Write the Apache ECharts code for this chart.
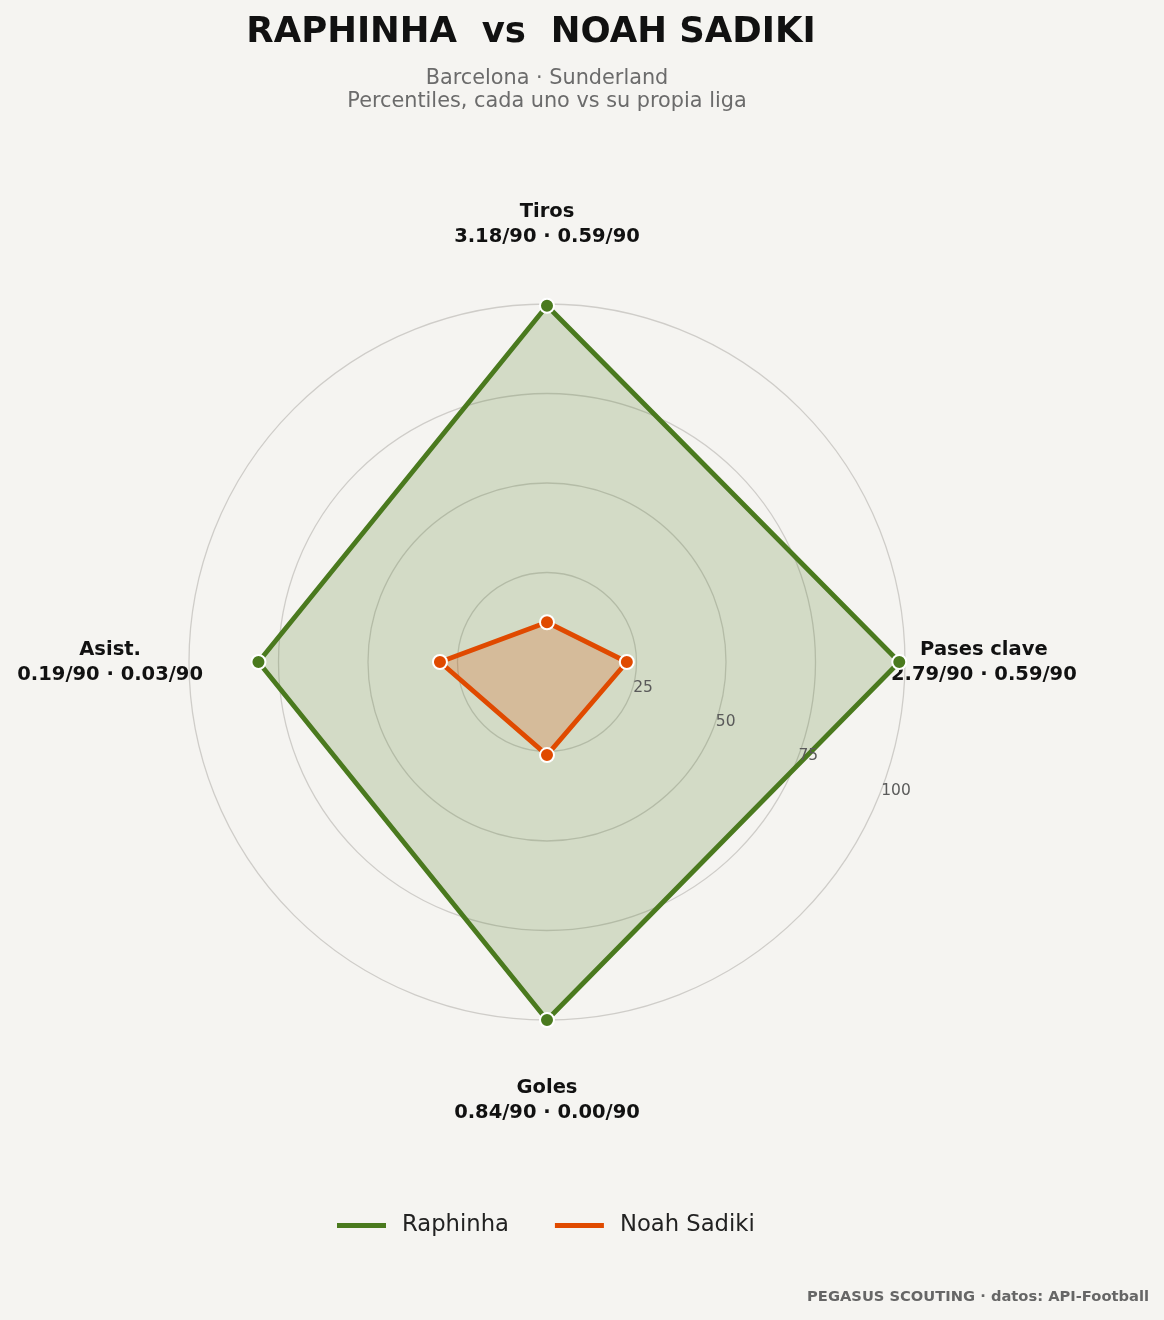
<!DOCTYPE html>
<html>
<head>
<meta charset="utf-8">
<script src="https://cdn.jsdelivr.net/npm/echarts@6/dist/echarts.min.js"></script>
<style>
html,body{margin:0;padding:0;background:#f5f4f1}
#chart{width:1164px;height:1320px}
</style>
</head>
<body>
<div id="chart"></div>
<script>
// ejes en el orden en que echarts los reparte (antihorario desde arriba)
var metrics = ['Tiros', 'Asist.', 'Goles', 'Pases clave'];
var per90 = ['3.18/90 · 0.59/90', '0.19/90 · 0.03/90', '0.84/90 · 0.00/90', '2.79/90 · 0.59/90'];
var raphinha = [99.5, 80.6, 100, 98.4];
var sadiki = [11.1, 29.9, 26, 22.3];
var ringTicks = [25, 50, 75, 100];

var GREEN = '#4a7a1e';
var ORANGE = '#e04a00';
var FONT = 'DejaVu Sans';

var chartDom = document.getElementById('chart');
var myChart = echarts.init(chartDom);
var option;

var nameBase = {fontFamily: FONT, fontSize: 19.5, fontWeight: 'bold', color: '#111', lineHeight: 25, align: 'center'};

option = {
  backgroundColor: '#f5f4f1',
  textStyle: {fontFamily: FONT},
  title: [
    {
      text: 'RAPHINHA  vs  NOAH SADIKI',
      left: 531,
      textAlign: 'center',
      top: 15,
      padding: 0,
      textStyle: {fontFamily: FONT, fontSize: 35.5, fontWeight: 'bold', color: '#111'}
    },
    {
      text: 'Barcelona · Sunderland\nPercentiles, cada uno vs su propia liga',
      left: 547,
      textAlign: 'center',
      top: 67,
      padding: 0,
      textStyle: {fontFamily: FONT, fontSize: 20.8, fontWeight: 'normal', color: '#6b6b6b', lineHeight: 23}
    },
    {
      text: 'PEGASUS SCOUTING · datos: API-Football',
      right: 10,
      bottom: 10,
      textStyle: {fontFamily: FONT, fontSize: 14.7, fontWeight: 'bold', color: '#666'}
    }
  ],
  legend: {
    top: 1209,
    left: 332,
    icon: 'rect',
    itemWidth: 49,
    itemHeight: 5,
    itemGap: 46,
    itemStyle: {borderWidth: 0},
    textStyle: {fontFamily: FONT, fontSize: 22.7, color: '#222', padding: [0, 0, 0, 11]},
    data: ['Raphinha', 'Noah Sadiki']
  },
  radar: {
    center: [547, 662],
    radius: 358,
    startAngle: 90,
    shape: 'circle',
    splitNumber: ringTicks.length,
    nameGap: -14,
    indicator: metrics.map(function (m) { return {name: m, min: 0, max: ringTicks[ringTicks.length - 1]}; }),
    axisName: {
      formatter: function (name) {
        var i = metrics.indexOf(name);
        var txt = '{n|' + name + '}\n{n|' + per90[i] + '}';
        if (i === 0) return txt + '\n{sp| }';
        if (i === 2) return '{sp| }\n' + txt;
        return txt;
      },
      rich: {
        n: nameBase,
        sp: {fontSize: 4, lineHeight: 69}
      }
    },
    axisLine: {show: false},
    axisTick: {show: false},
    splitArea: {show: false},
    splitLine: {lineStyle: {color: '#cfcdc9', width: 1.3}}
  },
  // solo para las etiquetas 25/50/75/100 en diagonal
  polar: {center: [547, 662], radius: 358},
  angleAxis: {type: 'value', min: 0, max: 360, startAngle: -22.5, show: false},
  radiusAxis: {
    type: 'value',
    min: 0,
    max: 100,
    interval: 25,
    z: 10,
    axisLine: {show: false},
    axisTick: {show: false},
    splitLine: {show: false},
    axisLabel: {showMinLabel: false, color: '#5a5a5a', fontSize: 15.5, fontFamily: FONT, margin: 9}
  },
  series: [
    {
      type: 'radar',
      z: 3,
      symbol: 'circle',
      symbolSize: 14,
      data: [
        {
          name: 'Raphinha',
          value: raphinha,
          lineStyle: {color: GREEN, width: 4.8},
          itemStyle: {color: GREEN, borderColor: '#fff', borderWidth: 2},
          areaStyle: {color: GREEN, opacity: 0.2}
        },
        {
          name: 'Noah Sadiki',
          value: sadiki,
          lineStyle: {color: ORANGE, width: 4.8},
          itemStyle: {color: ORANGE, borderColor: '#fff', borderWidth: 2},
          areaStyle: {color: ORANGE, opacity: 0.22}
        }
      ]
    }
  ]
};

option && myChart.setOption(option);
</script>
</body>
</html>
